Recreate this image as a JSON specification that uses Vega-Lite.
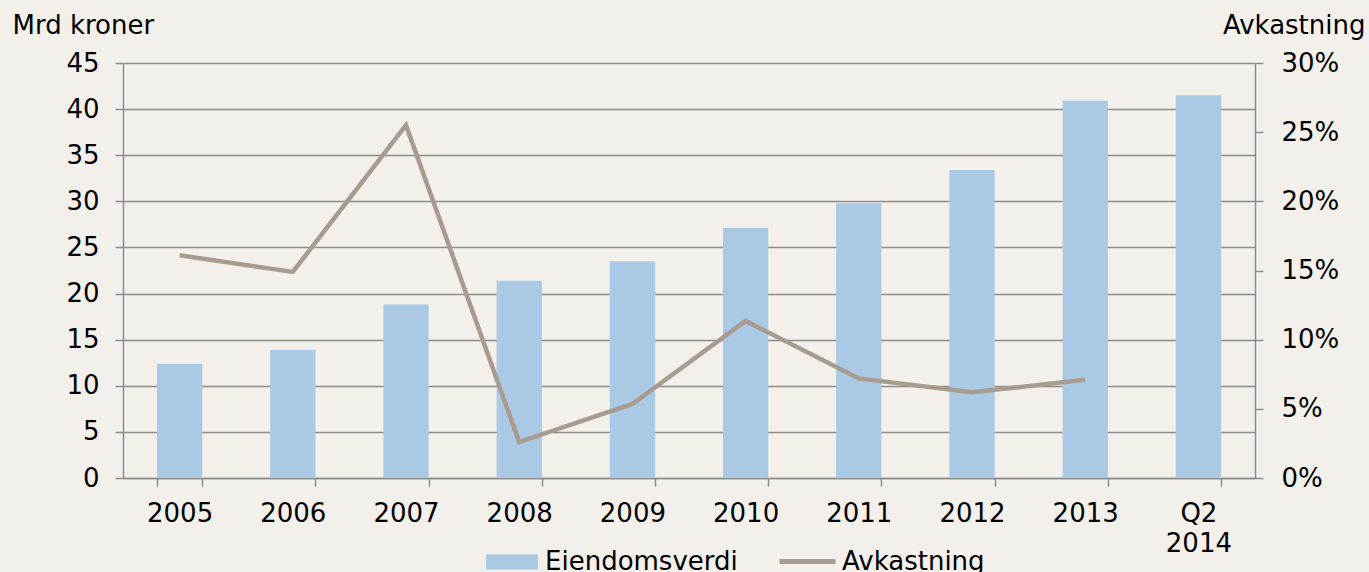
{
  "$schema": "https://vega.github.io/schema/vega-lite/v6.json",
  "width": 1132,
  "height": 415,
  "autosize": {"type": "none"},
  "padding": {"left": 123, "top": 63, "right": 114, "bottom": 94},
  "background": "#f3f0ec",
  "config": {
    "font": "DejaVu Sans",
    "view": {"stroke": null},
    "axis": {
      "labelFont": "DejaVu Sans",
      "titleFont": "DejaVu Sans",
      "labelFontSize": 26,
      "titleFontSize": 26,
      "labelColor": "#000000",
      "titleColor": "#000000",
      "titleFontWeight": "normal",
      "domainColor": "#8c8c8c",
      "domainWidth": 1.5,
      "tickColor": "#8c8c8c",
      "tickWidth": 1.5,
      "tickSize": 8,
      "gridColor": "#8c8c8c",
      "gridWidth": 1.5,
      "gridOpacity": 1
    },
    "legend": {
      "labelFont": "DejaVu Sans",
      "labelFontSize": 26,
      "labelColor": "#000000",
      "labelLimit": 0,
      "padding": 0
    }
  },
  "data": {
    "values": [
      {"period": "2005", "verdi": 12.4, "avk": 0.161},
      {"period": "2006", "verdi": 13.9, "avk": 0.149},
      {"period": "2007", "verdi": 18.8, "avk": 0.255},
      {"period": "2008", "verdi": 21.4, "avk": 0.026},
      {"period": "2009", "verdi": 23.5, "avk": 0.0535},
      {"period": "2010", "verdi": 27.1, "avk": 0.1135},
      {"period": "2011", "verdi": 29.8, "avk": 0.072},
      {"period": "2012", "verdi": 33.4, "avk": 0.062},
      {"period": "2013", "verdi": 40.9, "avk": 0.071},
      {"period": "Q2 2014", "verdi": 41.5, "avk": null}
    ]
  },
  "encoding": {
    "x": {
      "field": "period",
      "type": "nominal",
      "sort": null,
      "scale": {"paddingInner": 0.6, "paddingOuter": 0.3},
      "axis": {
        "title": null,
        "labelAngle": 0,
        "labelPadding": 14,
        "tickBand": "extent",
        "grid": false,
        "labelExpr": "split(datum.label, ' ')",
        "labelLineHeight": 30
      }
    }
  },
  "layer": [
    {
      "mark": {"type": "bar"},
      "encoding": {
        "y": {
          "field": "verdi",
          "type": "quantitative",
          "scale": {"domain": [0, 45], "nice": false},
          "axis": {
            "values": [0, 5, 10, 15, 20, 25, 30, 35, 40, 45],
            "title": "Mrd kroner",
            "titleAngle": 0,
            "titleAlign": "left",
            "titleBaseline": "alphabetic",
            "titleX": -111,
            "titleY": -30,
            "labelPadding": 16,
            "grid": true
          }
        },
        "fill": {
          "datum": "Eiendomsverdi",
          "type": "nominal",
          "scale": {"range": ["#a9c9e5"]},
          "legend": {
            "title": null,
            "orient": "none",
            "legendX": 363,
            "legendY": 473,
            "symbolType": "M-1,-0.288H1V0.288H-1Z",
            "symbolSize": 2704,
            "symbolStrokeWidth": 0,
            "labelOffset": 7
          }
        }
      }
    },
    {
      "mark": {"type": "line", "strokeWidth": 4.5},
      "encoding": {
        "y": {
          "field": "avk",
          "type": "quantitative",
          "scale": {"domain": [0, 0.3], "nice": false},
          "axis": {
            "orient": "right",
            "values": [0, 0.05, 0.1, 0.15, 0.2, 0.25, 0.3],
            "format": ".0%",
            "title": "Avkastning",
            "titleAngle": 0,
            "titleAlign": "right",
            "titleBaseline": "alphabetic",
            "titleX": 110,
            "titleY": -30,
            "labelPadding": 18,
            "grid": false
          }
        },
        "stroke": {
          "datum": "Avkastning",
          "type": "nominal",
          "scale": {"range": ["#a89b8f"]},
          "legend": {
            "title": null,
            "orient": "none",
            "legendX": 654,
            "legendY": 468,
            "symbolType": "stroke",
            "symbolSize": 3136,
            "symbolStrokeWidth": 5,
            "labelOffset": 4
          }
        }
      }
    }
  ],
  "resolve": {"scale": {"y": "independent", "fill": "independent", "stroke": "independent"}, "legend": {"fill": "independent", "stroke": "independent"}}
}
